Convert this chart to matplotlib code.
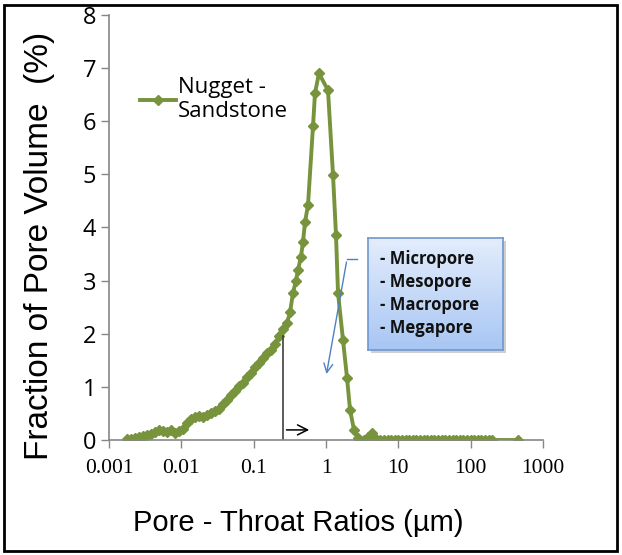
import numpy as np
import matplotlib.pyplot as plt
from matplotlib.patches import Rectangle

# pore-throat ratio (um) and fraction of pore volume (%)
ratio = [0.00177, 0.00201, 0.00229, 0.00260, 0.00295, 0.00335, 0.00381, 0.00433,
         0.00491, 0.00558, 0.00634, 0.00720, 0.00817, 0.00929, 0.01055, 0.01198,
         0.01361, 0.01546, 0.01755, 0.01994, 0.02265, 0.02572, 0.02922, 0.03319,
         0.03770, 0.04281, 0.04863, 0.05523, 0.06273, 0.07125, 0.08093, 0.09192,
         0.1044, 0.1186, 0.1347, 0.1530, 0.1738, 0.1973, 0.2241, 0.2545, 0.2891,
         0.318, 0.350, 0.385, 0.410, 0.451, 0.481, 0.513, 0.564, 0.661, 0.705,
         0.800, 1.066, 1.250, 1.375, 1.466, 1.719, 1.953, 2.148, 2.439, 2.773,
         3.355, 3.81, 4.33, 4.91,
         5.6, 6.3, 7.1, 7.9, 8.9, 10, 11.2, 12.6, 14.1, 15.8, 17.8, 20, 22.4,
         25.1, 28.2, 31.6, 35.5, 39.8, 44.7, 50.1, 56.2, 63.1, 70.8, 79.4, 89.1,
         100, 112, 126, 141, 158, 178, 200, 450]
frac = [0.02, 0.02, 0.04, 0.05, 0.07, 0.10, 0.12, 0.16,
        0.19, 0.17, 0.16, 0.18, 0.14, 0.17, 0.21, 0.32,
        0.40, 0.44, 0.45, 0.44, 0.47, 0.50, 0.55, 0.58,
        0.68, 0.76, 0.84, 0.93, 1.02, 1.08, 1.19, 1.27,
        1.38, 1.45, 1.55, 1.64, 1.70, 1.80, 1.96, 2.08, 2.20,
        2.40, 2.77, 3.00, 3.20, 3.45, 3.73, 4.10, 4.42, 5.90, 6.53,
        6.90, 6.58, 4.99, 3.86, 2.77, 1.88, 1.17, 0.57, 0.19, 0.03,
        0.0, 0.05, 0.13, 0.01,
        0, 0, 0, 0, 0, 0, 0, 0, 0, 0, 0, 0, 0,
        0, 0, 0, 0, 0, 0, 0, 0, 0, 0, 0, 0,
        0, 0, 0, 0, 0, 0, 0, 0]

xticks = [0.001, 0.01, 0.1, 1, 10, 100, 1000]
xticklabels = ['0.001', '0.01', '0.1', '1', '10', '100', '1000']
pore_types = ['- Micropore', '- Mesopore', '- Macropore', '- Megapore']

green = '#77933c'
grey = '#868686'

fig = plt.figure(figsize=(6.22, 5.55), dpi=100)
ax = fig.add_axes([0.1752, 0.2072, 0.873 - 0.1752, 0.766])

ax.plot(ratio, frac, color=green, lw=2.8, marker='D', ms=5, mec=green,
        mfc=green, label='Nugget -\nSandstone')
ax.set_xscale('log')
ax.set_xlim(0.001, 1000)
ax.set_ylim(0, 8)
ax.set_xticks(xticks)
ax.set_xticklabels(xticklabels, fontfamily='Liberation Serif', fontsize=15.5)
ax.xaxis.set_minor_locator(plt.NullLocator())
ax.set_yticks(range(9))
ax.set_yticklabels([str(i) for i in range(9)], fontfamily='Open Sans', fontsize=17)
ax.tick_params(axis='both', direction='out', length=6, color=grey, width=1)
ax.tick_params(axis='x', pad=8)
ax.tick_params(axis='y', pad=3)
for s in ['top', 'right']:
    ax.spines[s].set_visible(False)
for s in ['left', 'bottom']:
    ax.spines[s].set_color(grey)
    ax.spines[s].set_linewidth(1.2)

ax.set_xlabel('Pore - Throat Ratios (µm)', fontfamily='Liberation Sans', fontsize=21)
ax.set_ylabel('Fraction of Pore Volume  (%)', fontfamily='Liberation Sans', fontsize=24)
ax.xaxis.set_label_coords(0.435, -0.163)
ax.yaxis.set_label_coords(-0.124, 0.456)

leg = ax.legend(loc='upper left', bbox_to_anchor=(0.052, 0.875), frameon=False,
                prop={'family': 'Open Sans', 'size': 16}, handlelength=1.6,
                handletextpad=0.1, borderaxespad=0, labelspacing=0)

# vertical marker line and arrow
ax.plot([0.254, 0.254], [0, 1.96], color='#404040', lw=1.2)
ax.annotate('', xy=(0.64, 0.19), xytext=(0.26, 0.19),
            arrowprops=dict(arrowstyle='->', color='black', lw=1.1, mutation_scale=18))

# callout line from the box
ax.plot([2.68, 1.95], [3.40, 3.40], color='#4f81bd', lw=1)
ax.annotate('', xy=(1.0, 1.19), xytext=(1.95, 3.40),
            arrowprops=dict(arrowstyle='->', color='#4f81bd', lw=1, mutation_scale=16))

# gradient text box with shadow
bx, by, bw, bh = 368 / 622, 1 - 350 / 555, 135 / 622, 112 / 555
fig.patches.append(Rectangle((bx + 0.005, by - 0.006), bw, bh, transform=fig.transFigure,
                             facecolor='#b0b0b0', edgecolor='none', alpha=0.6, zorder=5))
bax = fig.add_axes([bx, by, bw, bh], zorder=6)
grad = np.linspace(0, 1, 100).reshape(-1, 1)
bax.imshow(grad, aspect='auto', cmap=plt.matplotlib.colors.LinearSegmentedColormap.from_list(
    'b', ['#e3edfc', '#a8c6f4']), extent=[0, 1, 0, 1])
bax.set_xticks([])
bax.set_yticks([])
for s in bax.spines.values():
    s.set_color('#6f97cf')
    s.set_linewidth(1.2)
for i, t in enumerate(pore_types):
    bax.text(0.09, 0.81 - i * 0.205, t, transform=bax.transAxes, va='center', ha='left',
             fontfamily='Open Sans', fontweight='bold', fontsize=12, color='#111111')

# outer frame
fig.patches.append(Rectangle((4 / 622, 1 - 551 / 555), 613 / 622, 546 / 555,
                             transform=fig.transFigure, fill=False, edgecolor='black', lw=2))

fig.savefig('out.png', dpi=100)
